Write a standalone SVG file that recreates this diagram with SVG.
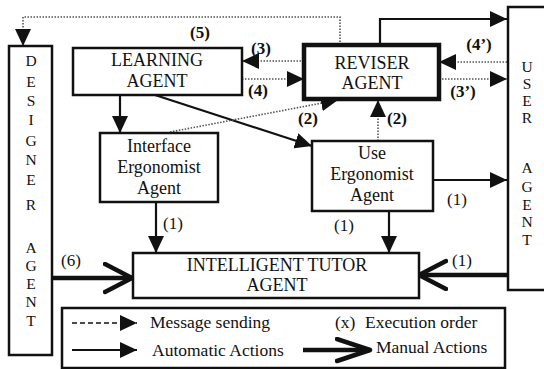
<svg xmlns="http://www.w3.org/2000/svg" width="544" height="369" viewBox="0 0 544 369">
<defs>
<style>
.box{fill:#fff;stroke:#111;stroke-width:2.5}
.thick{fill:#fff;stroke:#111;stroke-width:4.5}
.t{font-family:"Liberation Serif","Times New Roman",serif;font-size:18px;fill:#111;text-anchor:middle}
.l{font-family:"Liberation Serif","Times New Roman",serif;font-size:15.5px;fill:#111;text-anchor:middle}
.n{font-family:"Liberation Serif","Times New Roman",serif;font-size:17px;fill:#111;text-anchor:middle}
.nb{font-weight:bold}
.lg{font-family:"Liberation Serif","Times New Roman",serif;font-size:17.5px;fill:#111}
.solid{fill:none;stroke:#111;stroke-width:2.2}
.dot{fill:none;stroke:#555;stroke-width:1.6;stroke-dasharray:1.5 1.5}
.dash{fill:none;stroke:#111;stroke-width:1.6;stroke-dasharray:5 3}
.man{fill:none;stroke:#111;stroke-width:4.5}
</style>
<marker id="fa" markerUnits="userSpaceOnUse" markerWidth="18" markerHeight="16" refX="17" refY="8" orient="auto">
<path d="M0,0 L17,8 L0,16 z" fill="#111"/>
</marker>
<marker id="ch" markerUnits="userSpaceOnUse" markerWidth="34" markerHeight="34" refX="29" refY="16" orient="auto">
<path d="M2,2 L29,16 L2,30" fill="none" stroke="#111" stroke-width="4.5" stroke-linejoin="round" stroke-linecap="round"/>
</marker>
<marker id="ch2" markerUnits="userSpaceOnUse" markerWidth="40" markerHeight="30" refX="35" refY="13" orient="auto">
<path d="M2,2 L35,13 L2,24" fill="none" stroke="#111" stroke-width="4.5" stroke-linejoin="round" stroke-linecap="round"/>
</marker>
</defs>
<rect width="544" height="369" fill="#fff"/>

<g id="connectors">
<path class="dot" d="M340,45 V17 H23 V46" marker-end="url(#fa)"/>
<path class="solid" d="M380,45 V19 H507" marker-end="url(#fa)"/>
<path class="dot" d="M304,61 H242" marker-end="url(#fa)"/>
<path class="dot" d="M242,79 H304" marker-end="url(#fa)"/>
<path class="dot" d="M507,62 H439" marker-end="url(#fa)"/>
<path class="dot" d="M439,79 H507" marker-end="url(#fa)"/>
<path class="solid" d="M120,95 V133" marker-end="url(#fa)"/>
<path class="solid" d="M155,95 L312,146" marker-end="url(#fa)"/>
<path class="dot" d="M170,132 L338,100" marker-end="url(#fa)"/>
<path class="dot" d="M378,141 V100" marker-end="url(#fa)"/>
<path class="solid" d="M433,180 H507" marker-end="url(#fa)"/>
<path class="solid" d="M389,211 V253" marker-end="url(#fa)"/>
<path class="solid" d="M156,202 V253" marker-end="url(#fa)"/>
<path class="man" d="M52,278 H132" marker-end="url(#ch)"/>
<path class="man" d="M507,275 H419" marker-end="url(#ch)"/>
<text class="n nb" x="200" y="38">(5)</text>
<text class="n nb" x="261" y="54">(3)</text>
<text class="n nb" x="258" y="96">(4)</text>
<text class="n nb" x="479" y="50">(4’)</text>
<text class="n nb" x="463" y="97">(3’)</text>
<text class="n nb" x="308" y="124">(2)</text>
<text class="n nb" x="397" y="124">(2)</text>
<text class="n" x="457" y="205">(1)</text>
<text class="n" x="344" y="231">(1)</text>
<text class="n" x="173" y="229">(1)</text>
<text class="n" x="71" y="266">(6)</text>
<text class="n" x="462" y="266">(1)</text>
</g>

<g id="designer">
<rect class="box" x="9" y="46" width="43" height="309"/>
<text class="l" x="31" y="66">D</text>
<text class="l" x="31" y="87">E</text>
<text class="l" x="31" y="106">S</text>
<text class="l" x="31" y="125">I</text>
<text class="l" x="31" y="146">G</text>
<text class="l" x="31" y="165">N</text>
<text class="l" x="31" y="185">E</text>
<text class="l" x="31" y="210">R</text>
<text class="l" x="31" y="253">A</text>
<text class="l" x="31" y="271">G</text>
<text class="l" x="31" y="289">E</text>
<text class="l" x="31" y="307">N</text>
<text class="l" x="31" y="326">T</text>
</g>

<g id="user">
<rect class="box" x="508" y="7" width="60" height="283"/>
<text class="l" x="527" y="72">U</text>
<text class="l" x="527" y="89">S</text>
<text class="l" x="527" y="106">E</text>
<text class="l" x="527" y="123">R</text>
<text class="l" x="527" y="173">A</text>
<text class="l" x="527" y="192">G</text>
<text class="l" x="527" y="210">E</text>
<text class="l" x="527" y="227">N</text>
<text class="l" x="527" y="245">T</text>
</g>

<g id="learning">
<rect class="box" x="73" y="48" width="169" height="47"/>
<text class="t" x="157" y="66">LEARNING</text>
<text class="t" x="157" y="87">AGENT</text>
</g>

<g id="reviser">
<rect class="thick" x="304" y="45" width="135" height="54"/>
<text class="t" x="372" y="69">REVISER</text>
<text class="t" x="372" y="89">AGENT</text>
</g>

<g id="interface">
<rect class="box" x="100" y="133" width="118" height="69"/>
<text class="t" x="159" y="152">Interface</text>
<text class="t" x="159" y="173">Ergonomist</text>
<text class="t" x="159" y="194">Agent</text>
</g>

<g id="use">
<rect class="box" x="312" y="141" width="121" height="70"/>
<text class="t" x="372" y="159">Use</text>
<text class="t" x="372" y="180">Ergonomist</text>
<text class="t" x="372" y="201">Agent</text>
</g>

<g id="tutor">
<rect class="box" x="133" y="253" width="286" height="45"/>
<text class="t" x="277" y="271">INTELLIGENT TUTOR</text>
<text class="t" x="277" y="291">AGENT</text>
</g>

<g id="legend">
<rect class="box" x="62" y="308" width="443" height="60"/>
<path class="dash" d="M72,323 H137" marker-end="url(#fa)"/>
<text class="lg" x="150" y="328">Message sending</text>
<text class="lg" x="335" y="328">(x)</text>
<text class="lg" x="365" y="328">Execution order</text>
<path class="solid" d="M72,350 H137" marker-end="url(#fa)"/>
<text class="lg" x="152" y="356">Automatic Actions</text>
<path class="man" d="M303,350 H370" marker-end="url(#ch2)"/>
<text class="lg" x="376" y="353">Manual Actions</text>
</g>
</svg>
